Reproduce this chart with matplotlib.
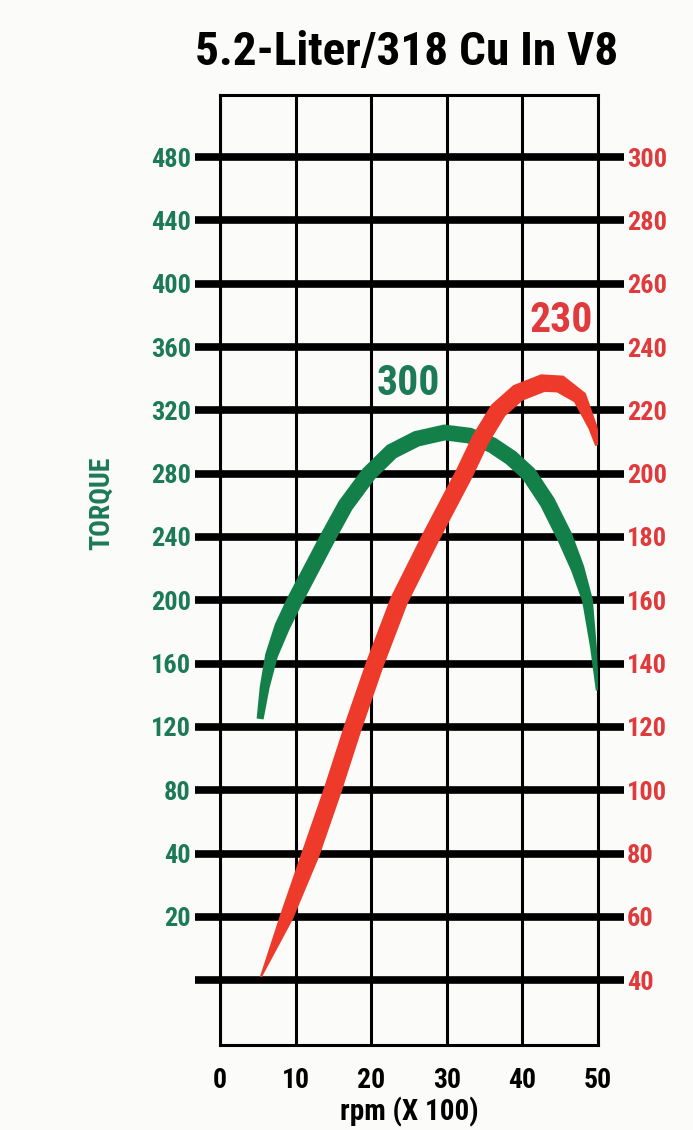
import os
import numpy as np
import matplotlib
matplotlib.use("Agg")
import matplotlib.pyplot as plt
from matplotlib import font_manager

# ---- data ----
rpm_ticks = [0, 10, 20, 30, 40, 50]            # rpm x 100
hp_ticks = [300, 280, 260, 240, 220, 200, 180, 160, 140, 120, 100, 80, 60, 40]
torque_labels = ['480', '440', '400', '360', '320', '280', '240', '200',
                 '160', '120', '80', '40', '20', '']

# torque curve (lb-ft)
torque_rpm = [5.3, 5.9, 6.8, 8.2, 9.9, 12.1, 14.3, 16.6, 19.7, 22.7, 26.0,
              29.7, 33.0, 36.0, 38.5, 40.8, 43.3, 45.6, 47.3, 48.6, 49.4, 49.9]
torque_val = [125, 145, 165, 183, 200, 220, 240, 260, 280, 294, 302,
              306, 304, 298, 290, 280, 262, 240, 220, 200, 170, 143]

# horsepower curve
hp_rpm = [5.4, 8.8, 12.0, 14.9, 17.6, 20.5, 23.7, 27.9, 32.3, 34.5,
          36.8, 39.4, 42.7, 45.0, 47.6, 49.3, 50.0]
hp_val = [41, 60, 80, 100, 120, 140, 160, 180, 200, 211,
          220, 225.5, 228.6, 228.3, 224, 214.7, 209]

torque_peak = '300'
hp_peak = '230'

GREEN = '#138049'
GREEN_TXT = '#1c7a58'
RED = '#ee3a2a'
RED_TXT = '#e03a3c'


def pick_condensed_bold():
    # look for a bold narrow/condensed face, else fall back to Liberation Sans
    prefs = ['liberation sans narrow', 'roboto condensed', 'dejavu sans condensed',
             'noto sans', 'open sans', 'roboto', 'lato']
    found = []
    for f in font_manager.fontManager.ttflist:
        nm = (f.name + ' ' + os.path.basename(f.fname)).lower()
        cond = f.stretch in ('condensed', 'semi-condensed', 'extra-condensed') \
            or 'condensed' in nm or 'narrow' in nm
        w = f.weight
        bold = (w >= 700 and w < 800) if isinstance(w, int) else (w == 'bold')
        if cond and bold and f.style == 'normal':
            rank = next((i for i, p in enumerate(prefs) if p in nm), len(prefs))
            found.append((rank, f.fname))
    if found:
        return font_manager.FontProperties(fname=sorted(found)[0][1])
    return font_manager.FontProperties(family='Liberation Sans', weight='bold')


FP = pick_condensed_bold()


def fp(size):
    p = FP.copy()
    p.set_size(size)
    return p


fig = plt.figure(figsize=(6.93, 11.30), dpi=100)
fig.patch.set_facecolor('#fbfbf9')

# main axes: hp rows; left labels show the torque scale on the same rows
ax = fig.add_axes([0.3175, 0.0752, 0.5455, 0.8407])
ax.set_facecolor('none')
ax.set_xlim(0, 50)
ax.set_ylim(19.5, 319.6)

ax.set_xticks(rpm_ticks)
ax.set_xticklabels([str(v) for v in rpm_ticks])
for t in ax.get_xticklabels():
    t.set_fontproperties(fp(20))
ax.tick_params(axis='x', length=0, pad=16)
ax.set_xlabel('rpm (X 100)', fontproperties=fp(21), labelpad=2)

ax.set_yticks(hp_ticks)
ax.set_yticklabels(torque_labels, color=GREEN_TXT)
for t in ax.get_yticklabels():
    t.set_fontproperties(fp(19))
ax.tick_params(axis='y', direction='out', length=18, width=5.5,
               color='black', pad=3, left=True, right=True,
               labelleft=True, labelright=False)

ax.grid(axis='y', color='black', linewidth=5.5, zorder=1)
ax.grid(axis='x', color='black', linewidth=2.2, zorder=1)
ax.set_axisbelow(True)
for s in ax.spines.values():
    s.set_linewidth(2.2)
    s.set_color('black')

# right-hand labels (horsepower)
ax_r = ax.twinx()
ax_r.set_ylim(ax.get_ylim())
ax_r.set_yticks(hp_ticks)
ax_r.set_yticklabels([str(v) for v in hp_ticks], color=RED_TXT)
for t in ax_r.get_yticklabels():
    t.set_fontproperties(fp(19))
ax_r.tick_params(axis='y', direction='out', length=19, width=5.5, pad=2, color='black')
for s in ax_r.spines.values():
    s.set_visible(False)


def draw_band(a, x, y, color, wmax, w_start, w_end, ramp_start, ramp_end):
    # filled band around the curve, thinner at both ends (widths in pixels)
    P = a.transData.transform(np.column_stack([x, y]))
    d = np.gradient(P, axis=0)
    d /= np.linalg.norm(d, axis=1)[:, None]
    nrm = np.column_stack([-d[:, 1], d[:, 0]])
    s = np.concatenate([[0], np.cumsum(np.linalg.norm(np.diff(P, axis=0), axis=1))])
    w = np.full(len(s), float(wmax))
    w = np.minimum(w, w_start + (wmax - w_start) * s / ramp_start)
    w = np.minimum(w, w_end + (wmax - w_end) * (s[-1] - s) / ramp_end)
    poly = np.vstack([P + nrm * w[:, None] / 2, (P - nrm * w[:, None] / 2)[::-1]])
    poly = a.transData.inverted().transform(poly)
    a.fill(poly[:, 0], poly[:, 1], color=color, lw=0, zorder=3)


# torque scale: 40 lb-ft per 20 hp row, 480 aligned with 300
torque_rows = [300 - (480 - t) / 2 for t in torque_val]
draw_band(ax, torque_rpm, torque_rows, GREEN, 16, 7, 3, 100, 150)
draw_band(ax_r, hp_rpm, hp_val, RED, 18, 2, 6, 90, 70)

ax.text(24.9, 228.6, torque_peak, color=GREEN_TXT, fontproperties=fp(30),
        ha='center', va='center', zorder=4)
ax_r.text(45.1, 248.5, hp_peak, color=RED_TXT, fontproperties=fp(30),
          ha='center', va='center', zorder=4)

fig.text(0.587, 0.954, '5.2-Liter/318 Cu In V8', fontproperties=fp(34),
         ha='center', va='center')
fig.text(0.147, 0.555, 'TORQUE', color=GREEN_TXT, rotation=90,
         fontproperties=fp(20), ha='center', va='center')

fig.savefig('out.png', dpi=100, facecolor=fig.get_facecolor())
